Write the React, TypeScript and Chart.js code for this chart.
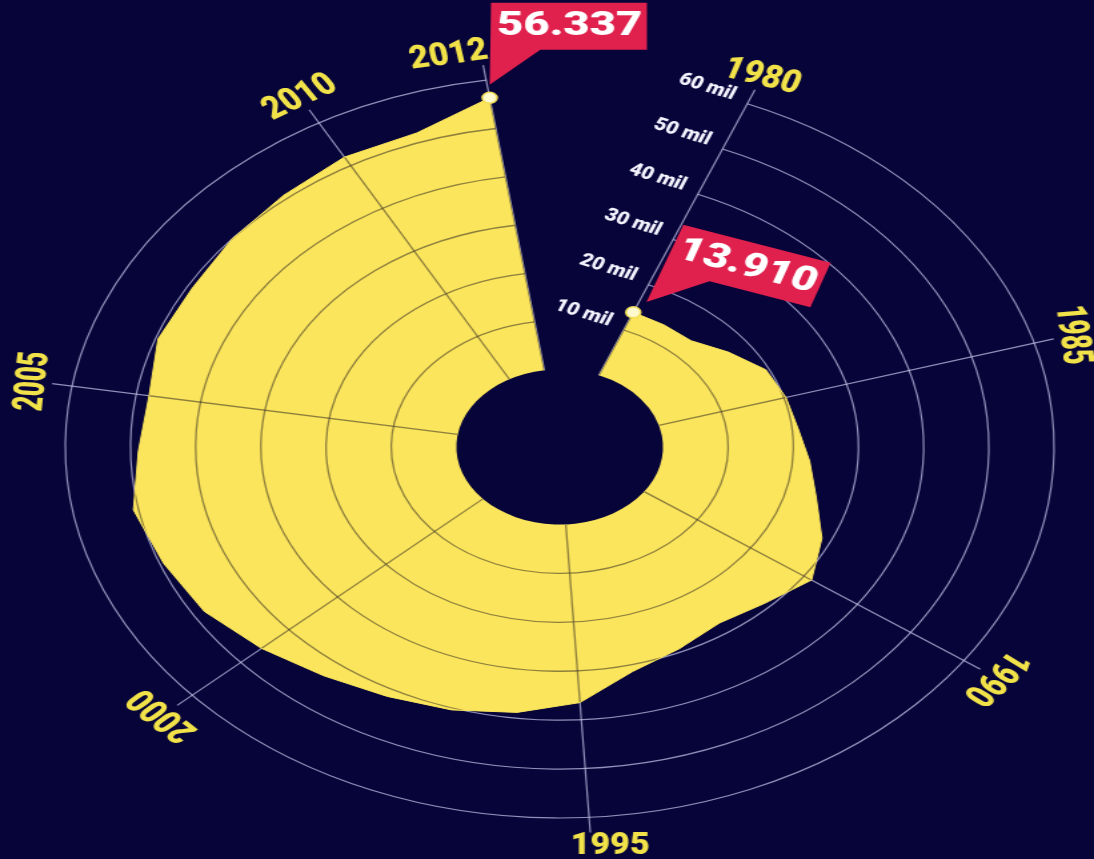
import React, { useEffect, useRef } from 'react';
import { Chart, registerables } from 'chart.js';

Chart.register(...registerables);

// ---------------- data ----------------
const YEARS = [
  1980, 1981, 1982, 1983, 1984, 1985, 1986, 1987, 1988, 1989,
  1990, 1991, 1992, 1993, 1994, 1995, 1996, 1997, 1998, 1999,
  2000, 2001, 2002, 2003, 2004, 2005, 2006, 2007, 2008, 2009,
  2010, 2011, 2012,
];
// millions
const VALUES = [
  13.91, 13.8, 13.8, 16.5, 19.5, 20.3, 20.9, 22.6, 24.8, 28.5,
  31.4, 29.0, 27.7, 29.3, 31.4, 36.5, 38.8, 40.4, 41.6, 43.3,
  45.7, 48.2, 49.4, 50.8, 48.8, 48.0, 49.6, 49.2, 50.0, 50.8,
  52.0, 52.0, 56.337,
];
const GAP_LABELS = ['', ''];
const AXIS_YEARS = [1980, 1985, 1990, 1995, 2000, 2005, 2010, 2012];
const TICK_VALUES = [10, 20, 30, 40, 50, 60];
const TICK_LABELS = ['10 mil', '20 mil', '30 mil', '40 mil', '50 mil', '60 mil'];
const CALLOUT_YEARS = [2012, 1980];
const CALLOUT_TEXTS = ['56.337', '13.910'];

// ---------------- styling ----------------
const NAVY = '#060439';
const YELLOW = '#FBE55C';
const LABEL_YELLOW = '#F2E24A';
const RED = '#E0214D';
const GRID_LIGHT = 'rgba(200,200,235,0.72)';
const GRID_DARK = 'rgba(70,60,40,0.6)';
const AXIS_LABEL_ROTATION = [18, 84, 129, 0, 226, 275, 328, 350];
const AXIS_LABEL_SHIFT = [0, 0, 0, 14, 0, 0, 0, -24];
const CALLOUT_ROTATION = [0, 19];
const CALLOUT_SHIFT = [0, 6];
const FONT_FAMILY = 'Roboto, "Open Sans", sans-serif';

const SCALE_MIN = -15.85;
const SCALE_MAX = 60;
const SPOKE_END = 63.1;
const LABEL_AT = 65.9;
const START_ANGLE = 22.3;

const PAGE_W = 1094;
const PAGE_H = 859;
const CANVAS_W = 821;
const STRETCH = PAGE_W / CANVAS_W;

function drawGrid(ctx: CanvasRenderingContext2D, s: any, color: string, width: number) {
  const cx = s.xCenter;
  const cy = s.yCenter;
  const last = YEARS.length - 1;
  const a0 = s.getIndexAngle(0) - Math.PI / 2;
  const a1 = s.getIndexAngle(last) - Math.PI / 2;
  ctx.strokeStyle = color;
  ctx.lineWidth = width;
  TICK_VALUES.forEach((v) => {
    const r = s.getDistanceFromCenterForValue(v);
    ctx.beginPath();
    ctx.arc(cx, cy, r, a0, a1, false);
    ctx.stroke();
  });
  const r0 = s.getDistanceFromCenterForValue(0);
  const r1 = s.getDistanceFromCenterForValue(SPOKE_END);
  AXIS_YEARS.forEach((y) => {
    const idx = YEARS.indexOf(y);
    const p0 = s.getPointPosition(idx, r0);
    const p1 = s.getPointPosition(idx, r1);
    ctx.beginPath();
    ctx.moveTo(p0.x, p0.y);
    ctx.lineTo(p1.x, p1.y);
    ctx.stroke();
  });
}

const spiralPlugin = {
  id: 'spiral',
  beforeDatasetsDraw(chart: any) {
    const ctx = chart.ctx;
    const s = chart.scales.r;
    ctx.save();
    drawGrid(ctx, s, GRID_LIGHT, 1.2);
    ctx.restore();
  },
  beforeDatasetDraw(chart: any, args: any) {
    const ctx = chart.ctx;
    const s = chart.scales.r;
    const meta = chart.getDatasetMeta(args.index);
    const pts = meta.data;
    const last = YEARS.length - 1;
    ctx.save();
    ctx.beginPath();
    ctx.moveTo(pts[0].x, pts[0].y);
    for (let i = 1; i <= last; i++) ctx.lineTo(pts[i].x, pts[i].y);
    const r0 = s.getDistanceFromCenterForValue(0);
    ctx.arc(
      s.xCenter,
      s.yCenter,
      r0,
      s.getIndexAngle(last) - Math.PI / 2,
      s.getIndexAngle(0) - Math.PI / 2,
      true
    );
    ctx.closePath();
    ctx.clip();
    drawGrid(ctx, s, GRID_DARK, 1.3);
    ctx.restore();
  },
  afterDraw(chart: any) {
    const ctx = chart.ctx;
    const s = chart.scales.r;
    const cx = s.xCenter;
    const cy = s.yCenter;

    // tick labels along the first spoke
    ctx.save();
    ctx.translate(cx, cy);
    ctx.rotate(s.getIndexAngle(0));
    ctx.fillStyle = '#F4F4FF';
    ctx.font = `900 18px ${FONT_FAMILY}`;
    ctx.textAlign = 'right';
    ctx.textBaseline = 'middle';
    TICK_VALUES.forEach((v, i) => {
      const r = s.getDistanceFromCenterForValue(v);
      ctx.save();
      ctx.translate(-12, -r - 4);
      ctx.scale(0.88, 1);
      ctx.fillText(TICK_LABELS[i], 0, 0);
      ctx.restore();
    });
    ctx.restore();

    // year labels
    const rl = s.getDistanceFromCenterForValue(LABEL_AT);
    AXIS_YEARS.forEach((y, k) => {
      const idx = YEARS.indexOf(y);
      const p = s.getPointPosition(idx, rl);
      ctx.save();
      ctx.translate(p.x, p.y);
      ctx.rotate((AXIS_LABEL_ROTATION[k] * Math.PI) / 180);
      ctx.translate(AXIS_LABEL_SHIFT[k], 0);
      ctx.scale(0.8, 1);
      ctx.fillStyle = LABEL_YELLOW;
      ctx.font = `900 32px ${FONT_FAMILY}`;
      ctx.textAlign = 'center';
      ctx.textBaseline = 'middle';
      ctx.fillText(String(y), 0, 0);
      ctx.restore();
    });

    // callouts
    const meta = chart.getDatasetMeta(0);
    CALLOUT_YEARS.forEach((y, k) => {
      const el = meta.data[YEARS.indexOf(y)];
      ctx.save();
      ctx.translate(el.x, el.y);
      ctx.rotate((CALLOUT_ROTATION[k] * Math.PI) / 180);
      ctx.translate(CALLOUT_SHIFT[k], 0);
      ctx.fillStyle = RED;
      ctx.beginPath();
      ctx.moveTo(0, -13);
      ctx.lineTo(1, -95);
      ctx.lineTo(118, -95);
      ctx.lineTo(118, -48);
      ctx.lineTo(38, -48);
      ctx.closePath();
      ctx.fill();
      ctx.translate(60, -71);
      ctx.fillStyle = '#FFFFFF';
      ctx.font = `900 34px ${FONT_FAMILY}`;
      ctx.textAlign = 'center';
      ctx.textBaseline = 'middle';
      ctx.fillText(CALLOUT_TEXTS[k], 0, 0);
      ctx.restore();
    });
  },
};

export default function App() {
  const canvasRef = useRef<HTMLCanvasElement | null>(null);

  useEffect(() => {
    document.body.style.margin = '0';
    document.body.style.background = NAVY;
    const canvas = canvasRef.current;
    if (!canvas) return;
    const last = YEARS.length - 1;
    const chart = new Chart(canvas, {
      type: 'radar',
      data: {
        labels: [...YEARS.map(String), ...GAP_LABELS],
        datasets: [
          {
            data: [...VALUES, ...GAP_LABELS.map(() => null)],
            backgroundColor: YELLOW,
            borderColor: YELLOW,
            borderWidth: 1,
            fill: 'origin',
            tension: 0,
            spanGaps: false,
            pointRadius: (c: any) => (c.dataIndex === 0 || c.dataIndex === last ? 5.5 : 0),
            pointHoverRadius: 0,
            pointBackgroundColor: '#FFF9CF',
            pointBorderColor: '#F2DF55',
            pointBorderWidth: 1.5,
          } as any,
        ],
      },
      options: {
        responsive: false,
        animation: false,
        events: [],
        layout: { padding: { left: 49, right: 30, top: 76, bottom: 41 } },
        plugins: {
          legend: { display: false },
          tooltip: { enabled: false },
          title: { display: false },
        },
        scales: {
          r: {
            min: SCALE_MIN,
            max: SCALE_MAX,
            startAngle: START_ANGLE,
            grid: { display: false, circular: true },
            angleLines: { display: false },
            pointLabels: { display: false },
            ticks: { display: false },
          },
        },
      } as any,
      plugins: [spiralPlugin as any],
    });
    return () => chart.destroy();
  }, []);

  return (
    <div
      style={{
        position: 'fixed',
        left: 0,
        top: 0,
        width: PAGE_W,
        height: PAGE_H,
        background: NAVY,
        overflow: 'hidden',
      }}
    >
      <div
        style={{
          width: CANVAS_W,
          height: PAGE_H,
          transform: `scaleX(${STRETCH})`,
          transformOrigin: '0 0',
        }}
      >
        <canvas ref={canvasRef} width={CANVAS_W} height={PAGE_H} style={{ display: 'block' }} />
      </div>
    </div>
  );
}
